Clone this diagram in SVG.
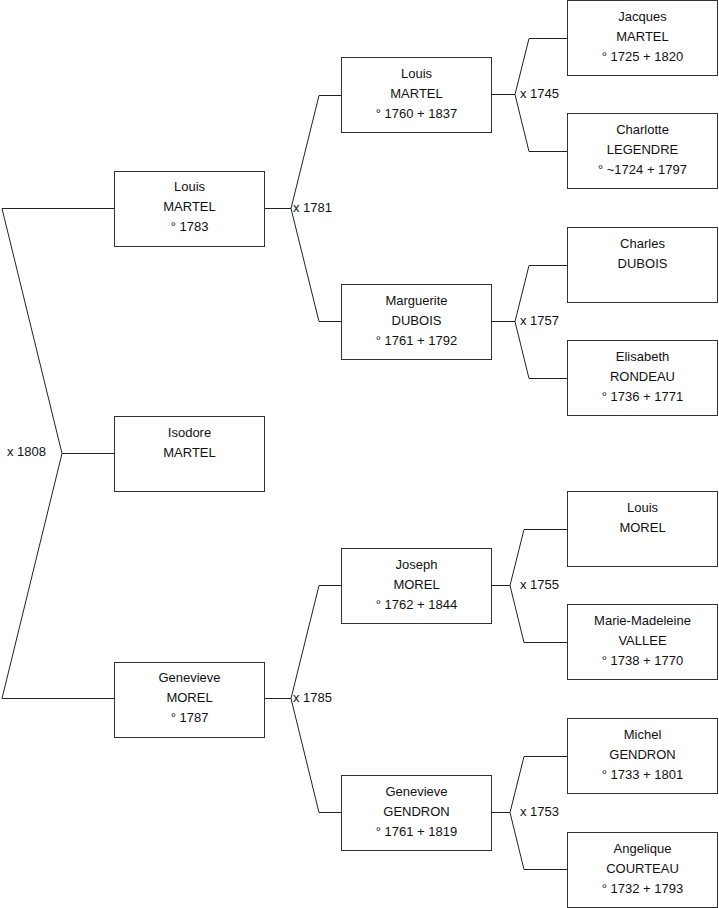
<svg xmlns="http://www.w3.org/2000/svg" width="719" height="908" viewBox="0 0 719 908">
<style>
rect.box{fill:#fff;stroke:#333;stroke-width:1}
.c path{fill:none;stroke:#222;stroke-width:1}
text{font-family:"Liberation Sans",Arial,sans-serif;font-size:13px;fill:#111}
.n text{text-anchor:middle}
</style>
<rect width="719" height="908" fill="#fff"/>
<g class="c" id="connectors">
<path d="M114,208.5 H2 L62,453.5 L2,698.5 H114 M62,453.5 H114"/>
<path d="M265,208.5 H291 L319,95.5 H341 M291,208.5 L319,321.5 H341"/>
<path d="M265,698.5 H291 L319,585.5 H341 M291,698.5 L319,812.5 H341"/>
<path d="M492,94.5 H515 L529,38.5 H567 M515,94.5 L529,151.5 H567"/>
<path d="M492,321.5 H515 L529,265.5 H567 M515,321.5 L529,378.5 H567"/>
<path d="M492,585.5 H510 L524,529.5 H567 M510,585.5 L524,642.5 H567"/>
<path d="M492,812.5 H510 L524,756.5 H567 M510,812.5 L524,869.5 H567"/>
</g>
<g id="labels">
<text x="7" y="456">x 1808</text>
<text x="293" y="212">x 1781</text>
<text x="293" y="702">x 1785</text>
<text x="520" y="98">x 1745</text>
<text x="520" y="325">x 1757</text>
<text x="520" y="589">x 1755</text>
<text x="520" y="816">x 1753</text>
</g>
<g class="n" id="n-louis-martel-1783"><rect class="box" x="114.5" y="171.5" width="150" height="75"/><text x="189.5" y="191">Louis</text><text x="189.5" y="211">MARTEL</text><text x="189.5" y="231">° 1783</text></g>
<g class="n" id="n-isodore"><rect class="box" x="114.5" y="416.5" width="150" height="75"/><text x="189.5" y="437">Isodore</text><text x="189.5" y="457">MARTEL</text></g>
<g class="n" id="n-genevieve-morel"><rect class="box" x="114.5" y="662.5" width="150" height="75"/><text x="189.5" y="682">Genevieve</text><text x="189.5" y="702">MOREL</text><text x="189.5" y="722">° 1787</text></g>
<g class="n" id="n-louis-martel-1760"><rect class="box" x="341.5" y="57.5" width="150" height="75"/><text x="416.5" y="78">Louis</text><text x="416.5" y="98">MARTEL</text><text x="416.5" y="118">° 1760 + 1837</text></g>
<g class="n" id="n-marguerite"><rect class="box" x="341.5" y="284.5" width="150" height="75"/><text x="416.5" y="305">Marguerite</text><text x="416.5" y="325">DUBOIS</text><text x="416.5" y="345">° 1761 + 1792</text></g>
<g class="n" id="n-joseph"><rect class="box" x="341.5" y="548.5" width="150" height="75"/><text x="416.5" y="569">Joseph</text><text x="416.5" y="589">MOREL</text><text x="416.5" y="609">° 1762 + 1844</text></g>
<g class="n" id="n-genevieve-gendron"><rect class="box" x="341.5" y="775.5" width="150" height="75"/><text x="416.5" y="796">Genevieve</text><text x="416.5" y="816">GENDRON</text><text x="416.5" y="836">° 1761 + 1819</text></g>
<g class="n" id="n-jacques"><rect class="box" x="567.5" y="0.5" width="150" height="75"/><text x="642.5" y="21">Jacques</text><text x="642.5" y="41">MARTEL</text><text x="642.5" y="61">° 1725 + 1820</text></g>
<g class="n" id="n-charlotte"><rect class="box" x="567.5" y="113.5" width="150" height="75"/><text x="642.5" y="134">Charlotte</text><text x="642.5" y="154">LEGENDRE</text><text x="642.5" y="174">° ~1724 + 1797</text></g>
<g class="n" id="n-charles"><rect class="box" x="567.5" y="227.5" width="150" height="75"/><text x="642.5" y="248">Charles</text><text x="642.5" y="268">DUBOIS</text></g>
<g class="n" id="n-elisabeth"><rect class="box" x="567.5" y="340.5" width="150" height="75"/><text x="642.5" y="361">Elisabeth</text><text x="642.5" y="381">RONDEAU</text><text x="642.5" y="401">° 1736 + 1771</text></g>
<g class="n" id="n-louis-morel"><rect class="box" x="567.5" y="491.5" width="150" height="75"/><text x="642.5" y="512">Louis</text><text x="642.5" y="532">MOREL</text></g>
<g class="n" id="n-marie-madeleine"><rect class="box" x="567.5" y="604.5" width="150" height="75"/><text x="642.5" y="625">Marie-Madeleine</text><text x="642.5" y="645">VALLEE</text><text x="642.5" y="665">° 1738 + 1770</text></g>
<g class="n" id="n-michel"><rect class="box" x="567.5" y="718.5" width="150" height="75"/><text x="642.5" y="739">Michel</text><text x="642.5" y="759">GENDRON</text><text x="642.5" y="779">° 1733 + 1801</text></g>
<g class="n" id="n-angelique"><rect class="box" x="567.5" y="832.5" width="150" height="75"/><text x="642.5" y="853">Angelique</text><text x="642.5" y="873">COURTEAU</text><text x="642.5" y="893">° 1732 + 1793</text></g>
</svg>
